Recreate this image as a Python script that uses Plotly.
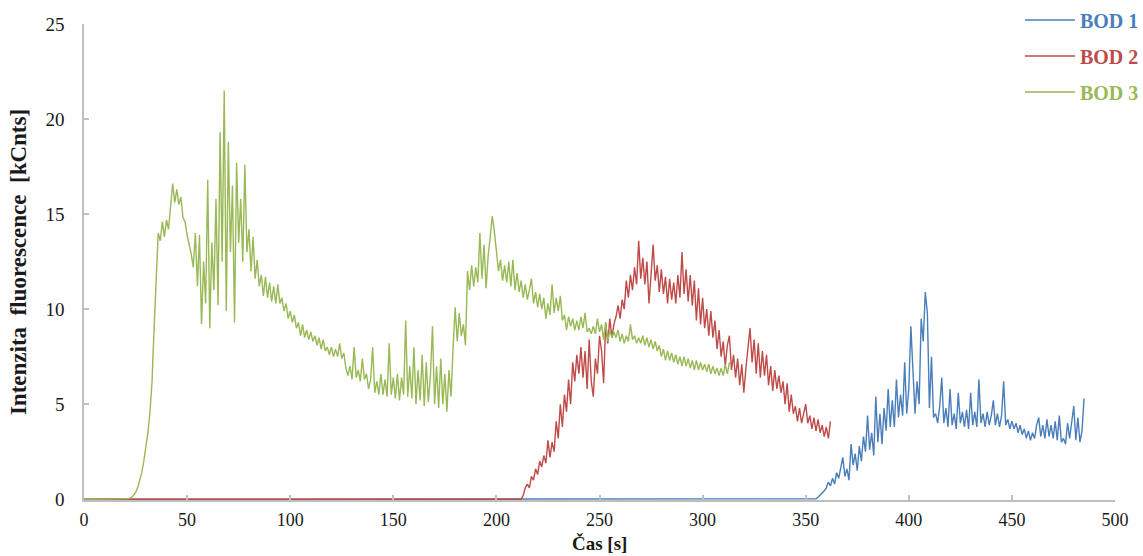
import plotly.graph_objects as go

# ---------------- data ----------------
series_names = ["BOD 1", "BOD 2", "BOD 3"]

# BOD 3 (green): baseline point at t=0, then 1-s samples from t=20 to t=313
bod3_start = 20
bod3_values = [
    0, 0.02, 0.05, 0.1, 0.2, 0.35, 0.6, 0.95, 1.4, 2.0,
    2.7, 3.5, 4.6, 6.2, 9.0, 12.0, 14.0, 13.6, 14.6, 13.8,
    14.7, 14.2, 15.3, 16.6, 15.6, 16.3, 15.5, 15.9, 14.8, 14.6,
    13.9, 13.4, 12.9, 12.2, 14.0, 11.2, 13.9, 9.2, 12.5, 10.3,
    16.8, 9.0, 13.5, 11.0, 15.8, 10.2, 19.3, 12.5, 21.5, 9.9,
    18.8, 13.0, 16.5, 9.3, 17.7, 13.5, 15.8, 12.5, 17.6, 13.0,
    14.2, 12.0, 13.8, 11.6, 12.6, 11.2, 11.8, 10.7, 11.7, 10.6,
    11.4, 10.4, 11.2, 10.3, 11.3, 10.3, 10.6, 9.9, 10.3, 9.5,
    9.9, 9.3, 9.7, 9.0, 9.3, 8.6, 9.2, 8.5, 8.9, 8.4,
    8.8, 8.3, 8.6, 8.1, 8.5, 7.9, 8.4, 7.8, 8.0, 7.6,
    8.0, 7.5, 7.9, 7.5, 8.2, 7.4, 7.7, 6.9, 6.5, 7.0,
    6.3, 8.0, 6.4, 6.8, 6.2, 7.4, 6.3, 6.6, 5.8, 6.3,
    8.0, 5.6, 6.2, 5.5, 6.6, 5.5, 6.3, 5.4, 8.2, 5.5,
    6.4, 5.3, 6.6, 5.2, 6.4, 5.5, 9.4, 5.4, 7.0, 5.3,
    8.0, 5.0, 6.8, 5.2, 7.6, 4.9, 7.2, 5.1, 6.5, 9.1,
    5.0, 7.0, 4.8, 7.4, 5.0, 6.6, 4.6, 6.8, 5.4, 8.0,
    10.1, 8.3, 9.8, 8.6, 9.2, 8.1, 12.0, 11.0, 12.3, 11.2,
    12.2, 11.4, 14.0, 11.6, 13.4, 11.1, 12.8, 13.8, 14.9, 14.1,
    13.0, 12.0, 12.6, 11.5, 12.3, 11.4, 12.5, 11.2, 12.6, 11.0,
    11.9, 10.9, 11.5, 10.6, 11.3, 10.5, 11.0, 11.6, 10.3, 10.9,
    10.1, 10.8, 10.0, 10.6, 9.5, 10.3, 9.7, 11.3, 9.8, 10.6,
    9.9, 10.7, 9.4, 9.7, 8.9, 9.6, 9.1, 9.5, 8.9, 9.4,
    8.9, 9.6, 9.0, 9.8, 8.8, 9.0, 8.7, 9.1, 8.7, 9.5,
    8.8, 9.2, 8.4, 9.3, 8.3, 8.9, 8.5, 8.8, 8.5, 8.9,
    8.3, 8.7, 8.2, 8.6, 8.3, 9.2, 8.4, 8.6, 8.2, 8.5,
    8.2, 8.6, 8.1, 8.5, 8.0, 8.4, 7.9, 8.3, 7.8, 8.1,
    7.5, 7.9, 7.3, 7.8, 7.3, 7.7, 7.2, 7.6, 7.1, 7.5,
    7.0, 7.5, 7.0, 7.4, 6.9, 7.3, 6.8, 7.3, 6.8, 7.2,
    6.8, 7.1, 6.7, 7.1, 6.6, 7.0, 6.6, 6.9, 6.5, 6.9,
    6.5, 7.1, 6.6, 7.2,
]

# BOD 2 (red): baseline point at t=0, then 1-s samples from t=211 to t=362
bod2_start = 211
bod2_values = [
    0, 0, 0.2, 0.6, 0.8, 0.6, 1.2, 1.0, 1.6,
    1.3, 2.0, 1.7, 2.3, 1.9, 3.1, 2.2, 3.0, 2.5, 4.1,
    3.2, 5.0, 3.8, 5.5, 4.6, 6.3, 5.0, 7.2, 6.2, 7.6,
    6.6, 8.0, 6.4, 7.8, 5.8, 8.4, 6.2, 5.4, 7.4, 6.6,
    8.6, 7.8, 6.1, 9.3, 8.2, 9.5, 8.5, 9.2, 9.6, 10.2,
    9.5, 10.5, 10.0, 11.5, 10.6, 11.8, 11.0, 12.2, 11.3, 13.6,
    11.6, 12.7, 11.3, 12.5, 10.3, 11.8, 13.4, 11.5, 12.3, 10.9,
    12.1, 10.8, 11.7, 10.3, 11.6, 10.5, 11.4, 10.3, 11.8, 10.6,
    13.0, 10.8, 12.1, 10.4, 11.8, 10.2, 11.5, 9.4, 11.1, 9.2,
    10.6, 9.0, 10.0, 8.6, 9.9, 8.5, 9.4, 7.9, 8.9, 7.5,
    8.3, 7.0, 8.1, 8.6, 6.8, 7.6, 6.4, 7.4, 6.0, 7.1,
    5.6, 6.9, 7.8, 9.0, 7.2, 8.4, 6.6, 8.2, 6.4, 7.8,
    6.5, 7.6, 6.0, 7.0, 5.7, 6.8, 5.8, 6.5, 5.6, 6.2,
    5.0, 6.1, 4.6, 5.5, 4.5, 4.9, 4.1, 4.8, 4.0, 4.6,
    5.0, 4.0, 4.4, 3.7, 4.3, 3.6, 4.2, 3.5, 3.9, 3.3,
    3.8, 3.2, 4.1,
]

# BOD 1 (blue): baseline point at t=0, then 1-s samples from t=354 to t=485
bod1_start = 354
bod1_values = [
    0, 0.02, 0.1, 0.2, 0.3, 0.45,
    0.6, 0.9, 0.7, 1.1, 0.8, 1.4, 1.1, 1.7, 2.2, 1.2,
    1.6, 1.0, 2.9, 1.8, 2.4, 1.5, 2.8, 2.0, 3.3, 2.5,
    4.4, 2.6, 3.5, 2.3, 5.4, 3.0, 4.5, 2.9, 4.8, 3.6,
    5.8, 3.8, 5.2, 3.8, 6.3, 4.3, 5.5, 4.4, 7.2, 4.5,
    5.8, 9.1, 6.6, 4.5, 6.2, 5.0, 9.5, 8.3, 10.9, 9.8,
    4.8, 7.5, 4.3, 4.5, 4.0, 4.9, 6.4, 4.0, 4.8, 3.8,
    5.8, 3.9, 4.5, 3.7, 5.6, 4.0, 4.6, 3.8, 4.7, 3.7,
    5.6, 3.9, 4.6, 3.8, 6.3, 4.0, 4.5, 3.8, 4.6, 3.9,
    4.4, 5.2, 3.9, 4.5, 3.8, 4.4, 6.2, 3.9, 4.2, 3.7,
    4.1, 3.7, 4.0, 3.5, 3.9, 3.4, 3.7, 3.2, 3.6, 3.1,
    3.5, 3.2, 3.9, 4.3, 3.3, 3.9, 3.2, 4.2, 3.3, 3.9,
    3.2, 4.1, 3.1, 4.4, 3.0, 3.2, 2.9, 4.0, 3.2, 4.2,
    4.9, 3.1, 4.3, 3.0, 3.6, 5.3,
]

x_ticks = [0, 50, 100, 150, 200, 250, 300, 350, 400, 450, 500]
y_ticks = [0, 5, 10, 15, 20, 25]
x_title = "Čas [s]"
y_title = "Intenzita\u00a0 fluorescence\u00a0 [kCnts]"


def build_series(start, values):
    # time stamps: initial baseline point at t=0, then 1-second samples
    times = [0] + [start + i for i in range(len(values))]
    return times, [0] + list(values)


colors = ["#4A7EBB", "#BE4B48", "#98B954"]
series_data = [
    build_series(bod1_start, bod1_values),
    build_series(bod2_start, bod2_values),
    build_series(bod3_start, bod3_values),
]

fig = go.Figure()
for name, color, (tt, vv) in zip(series_names, colors, series_data):
    fig.add_trace(go.Scatter(
        x=tt, y=vv, mode="lines",
        name=f"<span style='color:{color}'><b>{name}</b></span>",
        legendgroup=name,
        line=dict(color=color, width=1.4),
    ))

serif = "Liberation Serif"
axis_common = dict(
    showline=True, linecolor="#BFBFBF", linewidth=1.5,
    ticks="inside", ticklen=5, tickcolor="#BFBFBF", tickwidth=1.5,
    showgrid=False, zeroline=False, automargin=True,
)

fig.update_layout(
    width=1143, height=556,
    paper_bgcolor="white", plot_bgcolor="white",
    margin=dict(l=84, r=28, t=24, b=56, autoexpand=False),
    xaxis=dict(range=[0, 500], tickvals=x_ticks, ticklabelstandoff=3,
               tickfont=dict(family=serif, size=18, color="#1a1a1a"),
               **axis_common),
    yaxis=dict(range=[-0.04, 25], tickvals=y_ticks, ticklabelstandoff=14,
               tickfont=dict(family=serif, size=19, color="#1a1a1a"),
               title=dict(text=f"<b>{y_title}</b>", standoff=12,
                          font=dict(family=serif, size=23, color="#1a1a1a")),
               **axis_common),
    legend=dict(x=0.9078, y=1.0495, xanchor="left", yanchor="top",
                bgcolor="rgba(0,0,0,0)", tracegroupgap=7, itemwidth=50,
                font=dict(family=serif, size=20)),
    showlegend=True,
    annotations=[dict(
        text=f"<b>{x_title}</b>", xref="paper", yref="paper",
        x=0.5, y=-0.092, xanchor="center", yanchor="middle",
        showarrow=False, font=dict(family=serif, size=19, color="#1a1a1a"),
    )],
)

fig.write_html("out.html", config={"displayModeBar": False},
               post_script="document.body.style.margin='0';")
